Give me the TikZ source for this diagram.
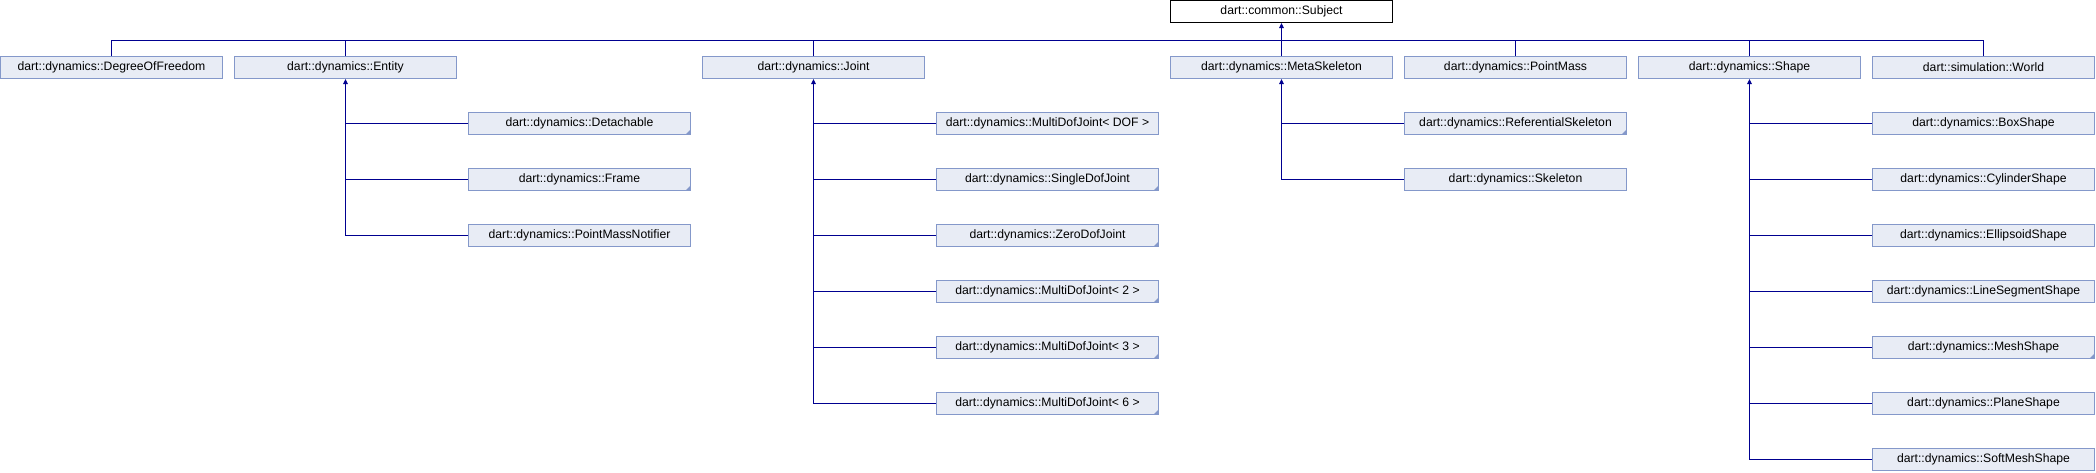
\documentclass[tikz,border=0pt]{standalone}
\usepackage{fontspec}
\setmainfont{Liberation Sans}
\usetikzlibrary{arrows.meta}
\definecolor{edgecol}{HTML}{000090}
\definecolor{boxfill}{HTML}{E8ECF5}
\definecolor{boxline}{HTML}{8498CA}
\tikzset{
  cls/.style={draw=boxline, fill=boxfill, line width=1pt, minimum width=222pt,
    minimum height=22pt, inner sep=0pt, font=\fontsize{12.2}{14}\selectfont},
  rootcls/.style={cls, draw=black, fill=white},
  trunc/.style={path picture={\fill[boxline] ([xshift=0.5pt,yshift=-0.5pt]path picture bounding box.south east)
      -- ++(-6pt,0pt) -- ++(6pt,6pt) -- cycle;}},
  link/.style={draw=edgecol, line width=1pt},
  inh/.style={link, -{Triangle[width=4.5pt,length=5pt]}},
}
\begin{document}
\begin{tikzpicture}[x=1pt,y=-1pt]
\useasboundingbox (0,0) rectangle (2096,472);
% root
\node[rootcls] (subject) at (1281.5,11.5) {dart::common::Subject};
% top row
\node[cls] (dof)    at (111.5,67.5)  {dart::dynamics::DegreeOfFreedom};
\node[cls] (entity) at (345.5,67.5)  {dart::dynamics::Entity};
\node[cls] (joint)  at (813.5,67.5)  {dart::dynamics::Joint};
\node[cls] (meta)   at (1281.5,67.5) {dart::dynamics::MetaSkeleton};
\node[cls] (pmass)  at (1515.5,67.5) {dart::dynamics::PointMass};
\node[cls] (shape)  at (1749.5,67.5) {dart::dynamics::Shape};
\node[cls] (world)  at (1983.5,67.5) {dart::simulation::World};
% entity children
\node[cls,trunc] (detach) at (579.5,123.5) {dart::dynamics::Detachable};
\node[cls,trunc] (frame)  at (579.5,179.5) {dart::dynamics::Frame};
\node[cls]       (pmn)    at (579.5,235.5) {dart::dynamics::PointMassNotifier};
% joint children
\node[cls]       (jdof) at (1047.5,123.5) {dart::dynamics::MultiDofJoint< DOF >};
\node[cls,trunc] (jsd)  at (1047.5,179.5) {dart::dynamics::SingleDofJoint};
\node[cls,trunc] (jzd)  at (1047.5,235.5) {dart::dynamics::ZeroDofJoint};
\node[cls,trunc] (j2)   at (1047.5,291.5) {dart::dynamics::MultiDofJoint< 2 >};
\node[cls,trunc] (j3)   at (1047.5,347.5) {dart::dynamics::MultiDofJoint< 3 >};
\node[cls,trunc] (j6)   at (1047.5,403.5) {dart::dynamics::MultiDofJoint< 6 >};
% metaskeleton children
\node[cls,trunc] (refsk) at (1515.5,123.5) {dart::dynamics::ReferentialSkeleton};
\node[cls]       (skel)  at (1515.5,179.5) {dart::dynamics::Skeleton};
% shape children
\node[cls]       (box)   at (1983.5,123.5) {dart::dynamics::BoxShape};
\node[cls]       (cyl)   at (1983.5,179.5) {dart::dynamics::CylinderShape};
\node[cls]       (ell)   at (1983.5,235.5) {dart::dynamics::EllipsoidShape};
\node[cls]       (lseg)  at (1983.5,291.5) {dart::dynamics::LineSegmentShape};
\node[cls,trunc] (mesh)  at (1983.5,347.5) {dart::dynamics::MeshShape};
\node[cls]       (plane) at (1983.5,403.5) {dart::dynamics::PlaneShape};
\node[cls]       (soft)  at (1983.5,459.5) {dart::dynamics::SoftMeshShape};
% bus to root
\coordinate (busL) at (111.5,40.5);
\coordinate (busR) at (1983.5,40.5);
\draw[link] (dof.north) |- (busR) -- (world.north);
\foreach \n in {entity,joint,pmass,shape}{\draw[link] (\n.north) -- (\n.north |- busL);}
\draw[inh] (meta.north) -- (subject.south);
% entity
\draw[inh] (pmn.west) -| (entity.south);
\foreach \n in {detach,frame}{\draw[link] (\n.west) -- (\n.west -| entity.south);}
% joint
\draw[inh] (j6.west) -| (joint.south);
\foreach \n in {jdof,jsd,jzd,j2,j3}{\draw[link] (\n.west) -- (\n.west -| joint.south);}
% meta
\draw[inh] (skel.west) -| (meta.south);
\draw[link] (refsk.west) -- (refsk.west -| meta.south);
% shape
\draw[inh] (soft.west) -| (shape.south);
\foreach \n in {box,cyl,ell,lseg,mesh,plane}{\draw[link] (\n.west) -- (\n.west -| shape.south);}
\end{tikzpicture}
\end{document}
